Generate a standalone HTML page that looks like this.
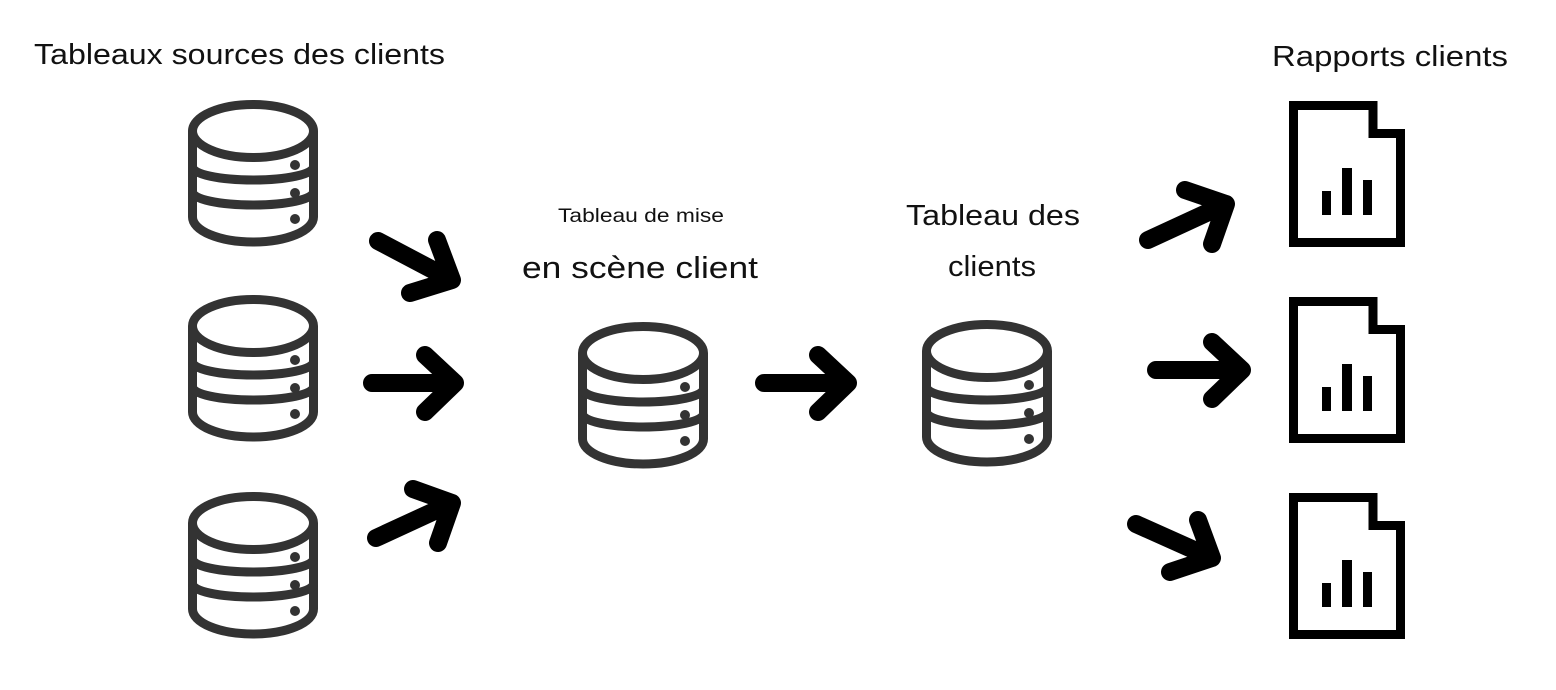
<!DOCTYPE html>
<html><head><meta charset="utf-8"><style>
html,body{margin:0;padding:0;background:#fff;}
svg{display:block}
text{font-family:"Liberation Sans",sans-serif;fill:#111}
</style></head><body>
<svg width="1556" height="690" viewBox="0 0 1556 690" xmlns="http://www.w3.org/2000/svg">
<defs>
<g id="db" fill="none" stroke="#333" stroke-width="9">
<ellipse cx="65" cy="31" rx="60.5" ry="26.5"/>
<path d="M4.5 31 V117 A60.5 25 0 0 0 125.5 117 V31"/>
<path d="M4.5 67 A60.5 13 0 0 0 125.5 67"/>
<path d="M4.5 92 A60.5 13 0 0 0 125.5 92"/>
<circle cx="107" cy="65" r="5" fill="#333" stroke="none"/>
<circle cx="107" cy="93" r="5" fill="#333" stroke="none"/>
<circle cx="107" cy="119" r="5" fill="#333" stroke="none"/>
</g>
<g id="rep">
<path d="M5.5 5.5 H85 V33.5 H112.5 V142.5 H5.5 Z" fill="none" stroke="#000" stroke-width="9"/>
<rect x="34" y="91" width="9" height="24" fill="#000"/>
<rect x="54" y="68" width="10" height="47" fill="#000"/>
<rect x="75" y="80" width="9" height="35" fill="#000"/>
</g>
</defs>
<text x="34" y="64" font-size="29" textLength="411" lengthAdjust="spacingAndGlyphs">Tableaux sources des clients</text>
<text x="1272" y="66" font-size="29" textLength="236" lengthAdjust="spacingAndGlyphs">Rapports clients</text>
<text x="558" y="222" font-size="19" textLength="166" lengthAdjust="spacingAndGlyphs">Tableau de mise</text>
<text x="522" y="278" font-size="31" textLength="236" lengthAdjust="spacingAndGlyphs">en scène client</text>
<text x="906" y="225" font-size="29" textLength="174" lengthAdjust="spacingAndGlyphs">Tableau des</text>
<text x="948" y="276" font-size="29" textLength="88" lengthAdjust="spacingAndGlyphs">clients</text>

<use href="#db" x="188" y="100"/>
<use href="#db" x="188" y="295"/>
<use href="#db" x="188" y="492"/>
<use href="#db" x="578" y="322"/>
<use href="#db" x="922" y="320"/>

<use href="#rep" x="1288" y="100"/>
<use href="#rep" x="1288" y="296"/>
<use href="#rep" x="1288" y="492"/>

<g fill="none" stroke="#000" stroke-width="18" stroke-linecap="round" stroke-linejoin="round">
<path d="M378 241 L452 280 M437 240 L452 280 L410 293"/>
<path d="M372 383 H455 M425 355 L455 383 L425 412"/>
<path d="M376 538 L452 503 M413 489 L452 503 L438 543"/>
<path d="M764 383 H848 M818 355 L848 383 L818 412"/>
<path d="M1148 240 L1226 204 M1185 190 L1226 204 L1212 244"/>
<path d="M1156 370 H1242 M1212 342 L1242 370 L1212 399"/>
<path d="M1136 524 L1212 558 M1198 520 L1212 558 L1170 572"/>
</g>
</svg>
</body></html>
